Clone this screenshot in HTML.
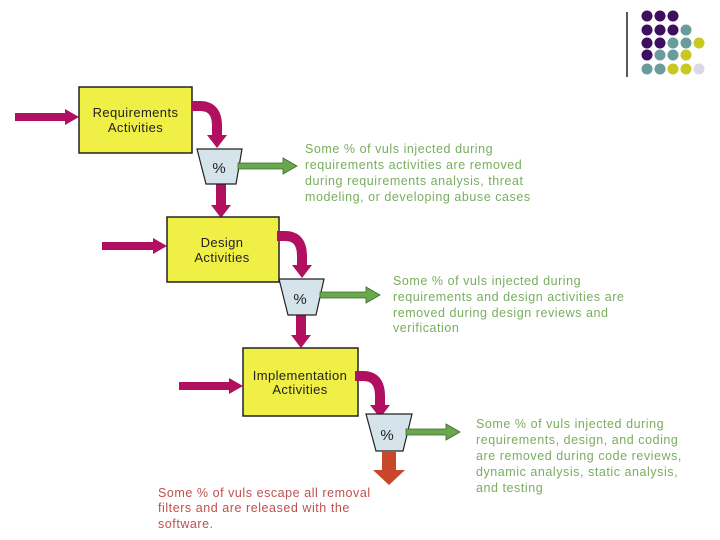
<!DOCTYPE html>
<html><head><meta charset="utf-8"><style>
html,body{margin:0;padding:0;background:#fff;width:720px;height:540px;overflow:hidden}
svg{display:block}
.g{font-family:"Liberation Sans",sans-serif;font-size:12.5px;fill:#79ad5f;letter-spacing:0.55px}
.r{font-family:"Liberation Sans",sans-serif;font-size:12.5px;fill:#c0504d;letter-spacing:0.55px}
.b{font-family:"Liberation Sans",sans-serif;font-size:13px;fill:#222;letter-spacing:0.4px}
</style></head><body>
<svg width="720" height="540" viewBox="0 0 720 540">
<defs>
<g id="curve">
<path d="M0 0 H8 Q25 0 25 20 V30" fill="none" stroke="#b0105f" stroke-width="10"/>
<polygon points="15,29 35,29 25,42" fill="#b0105f"/>
</g>
</defs>
<!-- logo -->
<line x1="627" y1="12" x2="627" y2="77" stroke="#222" stroke-width="1.5"/>
<g fill="#3d0f5e">
<circle cx="647" cy="16" r="5.5"/><circle cx="660" cy="16" r="5.5"/><circle cx="673" cy="16" r="5.5"/>
<circle cx="647" cy="30" r="5.5"/><circle cx="660" cy="30" r="5.5"/><circle cx="673" cy="30" r="5.5"/>
<circle cx="647" cy="43" r="5.5"/><circle cx="660" cy="43" r="5.5"/>
<circle cx="647" cy="55" r="5.5"/>
</g>
<g fill="#6b9c9c">
<circle cx="686" cy="30" r="5.5"/><circle cx="673" cy="43" r="5.5"/><circle cx="686" cy="43" r="5.5"/>
<circle cx="660" cy="55" r="5.5"/><circle cx="673" cy="55" r="5.5"/>
<circle cx="647" cy="69" r="5.5"/><circle cx="660" cy="69" r="5.5"/>
</g>
<g fill="#c8c821">
<circle cx="699" cy="43" r="5.5"/><circle cx="686" cy="55" r="5.5"/><circle cx="673" cy="69" r="5.5"/><circle cx="686" cy="69" r="5.5"/>
</g>
<circle cx="699" cy="69" r="5.5" fill="#d8d8e6"/>

<!-- Stage 1 -->
<polygon points="15,113 65,113 65,109 79,117 65,125 65,121 15,121" fill="#b0105f"/>
<rect x="79" y="87" width="113" height="66" fill="#f0ef45" stroke="#222" stroke-width="1.5"/>
<text class="b" x="135.5" y="117" text-anchor="middle">Requirements</text>
<text class="b" x="135.5" y="132" text-anchor="middle">Activities</text>
<use href="#curve" x="192" y="116" transform="translate(0,-10)"/>
<polygon points="216,184 226,184 226,205 231,205 221,218 211,205 216,205" fill="#b0105f"/>
<polygon points="197,149 242,149 236,184 206,184" fill="#d4e4ea" stroke="#222" stroke-width="1.2"/>
<text x="219" y="173" text-anchor="middle" font-family="Liberation Sans,sans-serif" font-size="15" fill="#222">%</text>
<polygon points="238,163 283,163 283,158 297,166 283,174 283,169 238,169" fill="#6aa84f" stroke="#3a6a2a" stroke-width="0.8"/>
<text class="g" x="305" y="153">Some % of vuls injected during</text>
<text class="g" x="305" y="169">requirements activities are removed</text>
<text class="g" x="305" y="185">during requirements analysis, threat</text>
<text class="g" x="305" y="201">modeling, or developing abuse cases</text>

<!-- Stage 2 -->
<polygon points="102,242 153,242 153,238 167,246 153,254 153,250 102,250" fill="#b0105f"/>
<rect x="167" y="217" width="112" height="65" fill="#f0ef45" stroke="#222" stroke-width="1.5"/>
<text class="b" x="222" y="247" text-anchor="middle">Design</text>
<text class="b" x="222" y="262" text-anchor="middle">Activities</text>
<use href="#curve" x="279" y="236" transform="translate(-2,0)"/>
<polygon points="296,315 306,315 306,335 311,335 301,348 291,335 296,335" fill="#b0105f"/>
<polygon points="279,279 324,279 316,315 288,315" fill="#d4e4ea" stroke="#222" stroke-width="1.2"/>
<text x="300" y="304" text-anchor="middle" font-family="Liberation Sans,sans-serif" font-size="15" fill="#222">%</text>
<polygon points="320,292 366,292 366,287 380,295 366,303 366,298 320,298" fill="#6aa84f" stroke="#3a6a2a" stroke-width="0.8"/>
<text class="g" x="393" y="285">Some % of vuls injected during</text>
<text class="g" x="393" y="301">requirements and design activities are</text>
<text class="g" x="393" y="317">removed during design reviews and</text>
<text class="g" x="393" y="332">verification</text>

<!-- Stage 3 -->
<polygon points="179,382 229,382 229,378 243,386 229,394 229,390 179,390" fill="#b0105f"/>
<rect x="243" y="348" width="115" height="68" fill="#f0ef45" stroke="#222" stroke-width="1.5"/>
<text class="b" x="300" y="380" text-anchor="middle">Implementation</text>
<text class="b" x="300" y="394" text-anchor="middle">Activities</text>
<use href="#curve" x="358" y="376" transform="translate(-3,0)"/>
<polygon points="366,414 412,414 403,451 376,451" fill="#d4e4ea" stroke="#222" stroke-width="1.2"/>
<text x="387" y="440" text-anchor="middle" font-family="Liberation Sans,sans-serif" font-size="15" fill="#222">%</text>
<polygon points="382,451 396,451 396,470 405,470 389,485 373,470 382,470" fill="#c8472a"/>
<polygon points="406,429 446,429 446,424 460,432 446,440 446,435 406,435" fill="#6aa84f" stroke="#3a6a2a" stroke-width="0.8"/>
<text class="g" x="476" y="428">Some % of vuls injected during</text>
<text class="g" x="476" y="444">requirements, design, and coding</text>
<text class="g" x="476" y="460">are removed during code reviews,</text>
<text class="g" x="476" y="476">dynamic analysis, static analysis,</text>
<text class="g" x="476" y="492">and testing</text>

<text class="r" x="158" y="497">Some % of vuls escape all removal</text>
<text class="r" x="158" y="512">filters and are released with the</text>
<text class="r" x="158" y="528">software.</text>
</svg>
</body></html>
